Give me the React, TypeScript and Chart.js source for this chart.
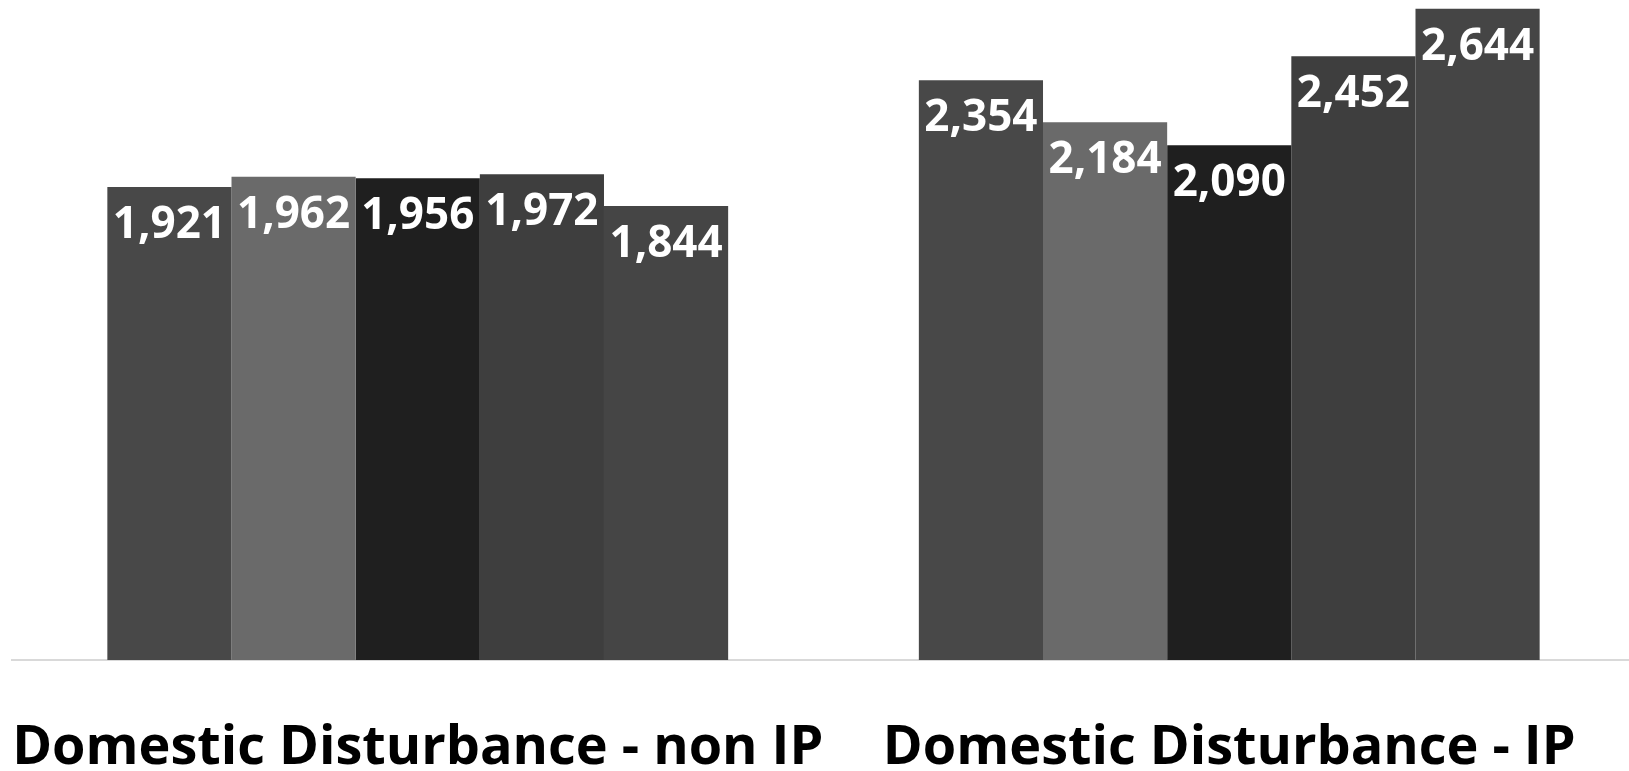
import React, { useEffect, useRef } from "react";
import { Chart, registerables } from "chart.js";

Chart.register(...registerables);

const categories = ["Domestic Disturbance - non IP", "Domestic Disturbance - IP"];
const seriesNames = ["Series 1", "Series 2", "Series 3", "Series 4", "Series 5"];
const series1 = [1921, 2354];
const series2 = [1962, 2184];
const series3 = [1956, 2090];
const series4 = [1972, 2452];
const series5 = [1844, 2644];
const seriesColors = ["#484848", "#6a6a6a", "#1f1f1f", "#3e3e3e", "#454545"];

const labelPlugin = {
  id: "barValueLabels",
  afterDatasetsDraw(chart: any) {
    const ctx = chart.ctx;
    ctx.save();
    ctx.font = "bold 44px 'Open Sans'";
    ctx.fillStyle = "#ffffff";
    ctx.textAlign = "center";
    ctx.textBaseline = "alphabetic";
    chart.data.datasets.forEach((ds: any, i: number) => {
      const meta = chart.getDatasetMeta(i);
      meta.data.forEach((bar: any, j: number) => {
        const v = ds.data[j] as number;
        ctx.fillText(v.toLocaleString("en-US"), bar.x, bar.y + 51);
      });
    });
    ctx.restore();
  },
};

export default function App() {
  const ref = useRef<HTMLCanvasElement | null>(null);
  useEffect(() => {
    document.body.style.margin = "0";
    const all = [series1, series2, series3, series4, series5];
    const chart = new Chart(ref.current!, {
      type: "bar",
      data: {
        labels: categories,
        datasets: all.map((d, i) => ({
          label: seriesNames[i],
          data: d,
          backgroundColor: seriesColors[i],
          borderWidth: 0,
          barPercentage: 1,
          categoryPercentage: 0.765,
        })),
      },
      options: {
        animation: false,
        responsive: false,
        maintainAspectRatio: false,
        layout: { padding: { left: 12, right: 0, top: 0, bottom: 0 } },
        plugins: { legend: { display: false }, tooltip: { enabled: false } },
        scales: {
          x: {
            grid: { display: false },
            border: { display: true, color: "#d9d9d9", width: 2 },
            ticks: {
              color: "#000000",
              font: { family: "'Open Sans'", weight: "bold", size: 54 },
              padding: 48,
              maxRotation: 0,
              autoSkip: false,
            },
            afterFit(scale: any) {
              scale.paddingLeft = 0;
              scale.paddingRight = 0;
              scale.height = 111;
            },
          },
          y: { display: false, min: 0, max: 2680 },
        },
      },
      plugins: [labelPlugin],
    });
    return () => chart.destroy();
  }, []);
  return (
    <div style={{ width: 1629, height: 771, background: "#ffffff", overflow: "hidden" }}>
      <canvas ref={ref} width={1635} height={771} style={{ display: "block" }} />
    </div>
  );
}
